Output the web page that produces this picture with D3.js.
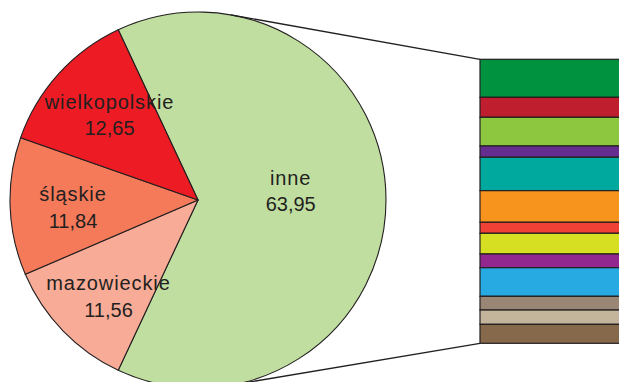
<!DOCTYPE html>
<html>
<head>
<meta charset="utf-8">
<script src="https://cdn.jsdelivr.net/npm/d3@7/dist/d3.min.js"></script>
<style>
  html, body { margin: 0; padding: 0; background: #fff; }
  svg { display: block; }
  text { font-family: "Liberation Sans", Arial, Helvetica, sans-serif; fill: #231f20; }
</style>
</head>
<body>
<svg id="chart" width="619" height="382"></svg>
<script>
// Pie: the three largest voivodeships plus the remainder ("inne")
const pieNames  = ["inne", "mazowieckie", "śląskie", "wielkopolskie"];
const pieValues = [63.95, 11.56, 11.84, 12.65];
const pieLabels = ["63,95", "11,56", "11,84", "12,65"];
const pieColors = ["#c0dea0", "#f8ac97", "#f47a5a", "#ed1c24"];

// Breakdown of "inne", top to bottom
const restNames  = ["dolnośląskie", "kujawsko-pomorskie", "lubelskie", "lubuskie", "łódzkie",
                    "małopolskie", "opolskie", "podkarpackie", "podlaskie", "pomorskie",
                    "świętokrzyskie", "warmińsko-mazurskie", "zachodniopomorskie"];
const restValues = [8.56, 4.50, 6.46, 2.54, 7.52, 7.12, 2.48, 4.66, 3.09, 6.44, 3.09, 3.22, 4.27];
const restColors = ["#00923f", "#be1e2d", "#8dc63f", "#662d91", "#00a99d", "#f7941d", "#ef4136",
                    "#d7df23", "#92278f", "#27aae1", "#998675", "#c2b59b", "#85694a"];

const svg = d3.select("#chart");
const W = 619, H = 382;
const cx = 198, cy = 200, R = 188;
const ink = "#231f20";

// ---- pie ----
const total = d3.sum(pieValues);
const inneFrac = pieValues[0] / total;
const start = Math.PI / 2 - inneFrac * Math.PI;   // centre "inne" on the right
const pie = d3.pie().sort(null).value(d => d.v)
  .startAngle(start).endAngle(start + 2 * Math.PI);
const arcs = pie(pieNames.map((n, i) => ({ n, v: pieValues[i], lab: pieLabels[i], c: pieColors[i] })));
const arc = d3.arc().innerRadius(0).outerRadius(R);

// ---- bar scale ----
const barX = 480, barW = 150, barTop = 59.3, barBottom = 343.3;
const y = d3.scaleLinear().domain([0, d3.sum(restValues)]).range([barTop, barBottom]);
let acc = 0;
const segs = restValues.map((v, i) => { const s = { y0: acc, y1: acc + v, c: restColors[i], n: restNames[i] }; acc += v; return s; });

// ---- connector lines, tangent from the bar corners to the circle ----
function tangentPoint(px, py, upper) {
  const dx = px - cx, dy = py - cy;
  const d = Math.hypot(dx, dy);
  const base = Math.atan2(dy, dx);
  const off = Math.acos(R / d);
  const a = upper ? base - off : base + off;
  return [cx + R * Math.cos(a), cy + R * Math.sin(a)];
}
const tTop = tangentPoint(barX, y(0), true);
const tBot = tangentPoint(barX, y(d3.sum(restValues)), false);

const g = svg.append("g");

g.append("g").selectAll("path").data(arcs).join("path")
  .attr("transform", `translate(${cx},${cy})`)
  .attr("d", arc)
  .attr("fill", d => d.data.c)
  .attr("stroke", ink)
  .attr("stroke-width", 1.1)
  .attr("stroke-linejoin", "round");

g.append("g").selectAll("line").data([[tTop, [barX, y(0)]], [tBot, [barX, y(d3.sum(restValues))]]]).join("line")
  .attr("x1", d => d[0][0]).attr("y1", d => d[0][1])
  .attr("x2", d => d[1][0]).attr("y2", d => d[1][1])
  .attr("stroke", ink).attr("stroke-width", 1.3);

g.append("g").selectAll("rect").data(segs).join("rect")
  .attr("x", barX).attr("width", barW)
  .attr("y", d => y(d.y0)).attr("height", d => y(d.y1) - y(d.y0))
  .attr("fill", d => d.c)
  .attr("stroke", ink).attr("stroke-width", 1.2);

// ---- labels ----
const labelPos = {
  "inne":          { x: 290.7, y1: 185,   y2: 210.7 },
  "mazowieckie":   { x: 108.5, y1: 290,   y2: 316.7 },
  "śląskie":       { x: 73,    y1: 200.7, y2: 228.3 },
  "wielkopolskie": { x: 109.5, y1: 109.3, y2: 135 }
};
const lg = g.append("g");
arcs.forEach(d => {
  const p = labelPos[d.data.n];
  lg.append("text").attr("x", p.x).attr("y", p.y1)
    .attr("text-anchor", "middle").attr("font-size", 20)
    .attr("letter-spacing", "0.9px")
    .text(d.data.n);
  lg.append("text").attr("x", p.x).attr("y", p.y2)
    .attr("text-anchor", "middle").attr("font-size", 20)
    .text(d.data.lab);
});
</script>
</body>
</html>
